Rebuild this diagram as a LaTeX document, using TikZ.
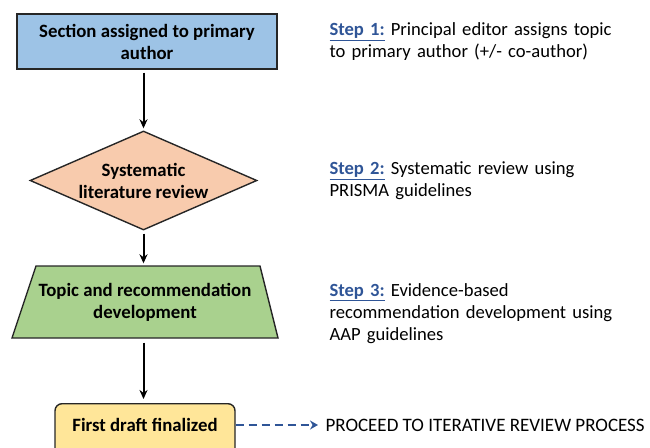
\documentclass[tikz,border=0pt]{standalone}
\usepackage{fontspec}
\setmainfont{Carlito}
\usetikzlibrary{shapes.geometric,arrows.meta,calc}

\definecolor{boxblue}{HTML}{9DC3E6}
\definecolor{boxpeach}{HTML}{F8CBAD}
\definecolor{boxgreen}{HTML}{A9D18E}
\definecolor{boxyellow}{HTML}{FFE699}
\definecolor{stepblue}{HTML}{2F5597}
\definecolor{edge}{HTML}{262626}

\begin{document}
\begin{tikzpicture}[x=1pt,y=-1pt,
  every node/.style={font=\fontsize{18.6}{22}\selectfont},
  shape box/.style={draw=edge,line width=1.4pt,align=center,font=\fontsize{18.8}{22}\selectfont\bfseries},
  flow/.style={-{Stealth[length=9pt,width=8pt]},line width=2pt,black},
  steptext/.style={anchor=west,align=left,text width=320pt}]

\useasboundingbox (0,0) rectangle (650,447);

%Step label macro
\def\steplbl#1{\textcolor{stepblue}{\bfseries\underline{Step #1:}}}

% Trapezium outline, drawn first so its text sits on top.
\draw[draw=edge,line width=1.4pt,fill=boxgreen] (36,266) -- (260,266) -- (278,338) -- (12,338) -- cycle;

% Flow chart shapes, left column.
\node[shape box,fill=boxblue,minimum width=260pt,minimum height=55pt,inner sep=0pt]
  (assign) at (147,41.5) {Section assigned to primary\\author};
\node[shape box,fill=boxpeach,diamond,aspect=2.29,minimum width=227pt,minimum height=99pt,inner sep=0pt]
  (review) at (143.5,180.5) {Systematic\\literature review};
\node[shape box,draw=none,minimum width=266pt,minimum height=72pt,inner sep=0pt]
  (develop) at (145,302) {Topic and recommendation\\development};
\node[shape box,fill=boxyellow,rounded corners=7pt,anchor=north,minimum width=180pt,
  inner sep=0pt,text height=28pt,text depth=32pt]
  (draft) at (145,403) {First draft finalized};

% Step descriptions, right column.
\node[steptext] (step1) at (326,42) {\steplbl{1} Principal editor assigns topic\\to primary author (+/- co-author)};
\node[steptext] (step2) at (326,181) {\steplbl{2} Systematic review using\\PRISMA guidelines};
\node[steptext] (step3) at (326,313.5) {\steplbl{3} Evidence-based\\recommendation development using\\AAP guidelines};
\node[anchor=west,font=\fontsize{19}{22}\selectfont] (proceed) at (322,425) {PROCEED TO ITERATIVE REVIEW PROCESS};

% Connectors, all on the diamond's axis.
\coordinate (a1) at ($(assign.south -| review.north)+(0,3)$);
\coordinate (a2) at ($(review.south)+(0,3)$);
\coordinate (a3) at ($(develop.south -| review.north)+(0,4)$);
\draw[flow] (a1) -- ($(review.north)+(0,-2)$);
\draw[flow] (a2) -- ($(develop.north -| review.north)+(0,-2)$);
\draw[flow] (a3) -- ($(draft.north -| review.north)+(0,-4)$);
\draw[stepblue,line width=2pt,dash pattern=on 8pt off 5pt,-{Stealth[length=8pt,width=9pt]}]
  (draft.east |- proceed) -- ($(proceed.west)+(-4,0)$);

\end{tikzpicture}
\end{document}
